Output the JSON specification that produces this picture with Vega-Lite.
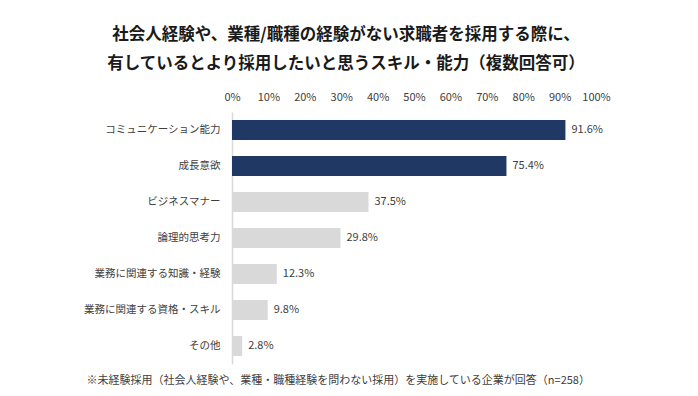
{
  "$schema": "https://vega.github.io/schema/vega-lite/v6.json",
  "autosize": {"type": "none"},
  "width": 364,
  "height": 252,
  "padding": {"left": 232, "top": 112, "right": 102, "bottom": 32},
  "background": "white",
  "title": {
    "text": ["社会人経験や、業種/職種の経験がない求職者を採用する際に、", "有しているとより採用したいと思うスキル・能力（複数回答可）"],
    "font": "Noto Sans CJK JP",
    "fontSize": 16.5,
    "fontWeight": "bold",
    "color": "#1a1a1a",
    "anchor": "middle",
    "dx": -68,
    "lineHeight": 29,
    "offset": 19
  },
  "data": {
    "values": [
      {"item": "コミュニケーション能力", "value": 0.916, "group": "top"},
      {"item": "成長意欲", "value": 0.754, "group": "top"},
      {"item": "ビジネスマナー", "value": 0.375, "group": "other"},
      {"item": "論理的思考力", "value": 0.298, "group": "other"},
      {"item": "業務に関連する知識・経験", "value": 0.123, "group": "other"},
      {"item": "業務に関連する資格・スキル", "value": 0.098, "group": "other"},
      {"item": "その他", "value": 0.028, "group": "other"}
    ]
  },
  "encoding": {
    "y": {
      "field": "item",
      "type": "nominal",
      "sort": null,
      "scale": {"paddingInner": 0.444, "paddingOuter": 0.222},
      "axis": {
        "title": null,
        "ticks": false,
        "domainColor": "#d9d9d9",
        "domainWidth": 1.5,
        "labelFont": "Noto Sans CJK JP",
        "labelFontSize": 10.5,
        "labelColor": "#404040",
        "labelPadding": 12
      }
    },
    "x": {
      "field": "value",
      "type": "quantitative",
      "scale": {"domain": [0, 1]}
    }
  },
  "layer": [
    {
      "mark": {"type": "bar"},
      "encoding": {
        "x": {
          "field": "value",
          "type": "quantitative",
          "scale": {"domain": [0, 1]},
          "axis": {
            "orient": "top",
            "title": null,
            "values": [0, 0.1, 0.2, 0.3, 0.4, 0.5, 0.6, 0.7, 0.8, 0.9, 1],
            "format": ".0%",
            "labelOverlap": false,
            "labelFlush": false,
            "grid": false,
            "ticks": false,
            "domain": false,
            "labelFont": "Noto Sans CJK JP",
            "labelFontSize": 11,
            "labelColor": "#404040",
            "labelPadding": 10
          }
        },
        "color": {
          "field": "group",
          "type": "nominal",
          "scale": {"domain": ["top", "other"], "range": ["#203864", "#d9d9d9"]},
          "legend": null
        }
      }
    },
    {
      "mark": {"type": "text", "align": "left", "dx": 6, "font": "Noto Sans CJK JP", "fontSize": 11, "color": "#404040"},
      "encoding": {
        "x": {
          "field": "value",
          "type": "quantitative",
          "scale": {"domain": [0, 1]},
          "axis": {
            "orient": "bottom",
            "title": "※未経験採用（社会人経験や、業種・職種経験を問わない採用）を実施している企業が回答（n=258）",
            "labels": false,
            "ticks": false,
            "domain": false,
            "grid": false,
            "titleFont": "Noto Sans CJK JP",
            "titleFontSize": 11,
            "titleFontWeight": "normal",
            "titleColor": "#404040",
            "titleAnchor": "start",
            "titleAlign": "left",
            "titleX": -146,
            "titlePadding": 10
          }
        },
        "text": {"field": "value", "type": "quantitative", "format": ".1%"}
      }
    }
  ],
  "resolve": {"axis": {"x": "independent"}},
  "config": {
    "view": {"stroke": null},
    "text": {"font": "Noto Sans CJK JP"}
  }
}
